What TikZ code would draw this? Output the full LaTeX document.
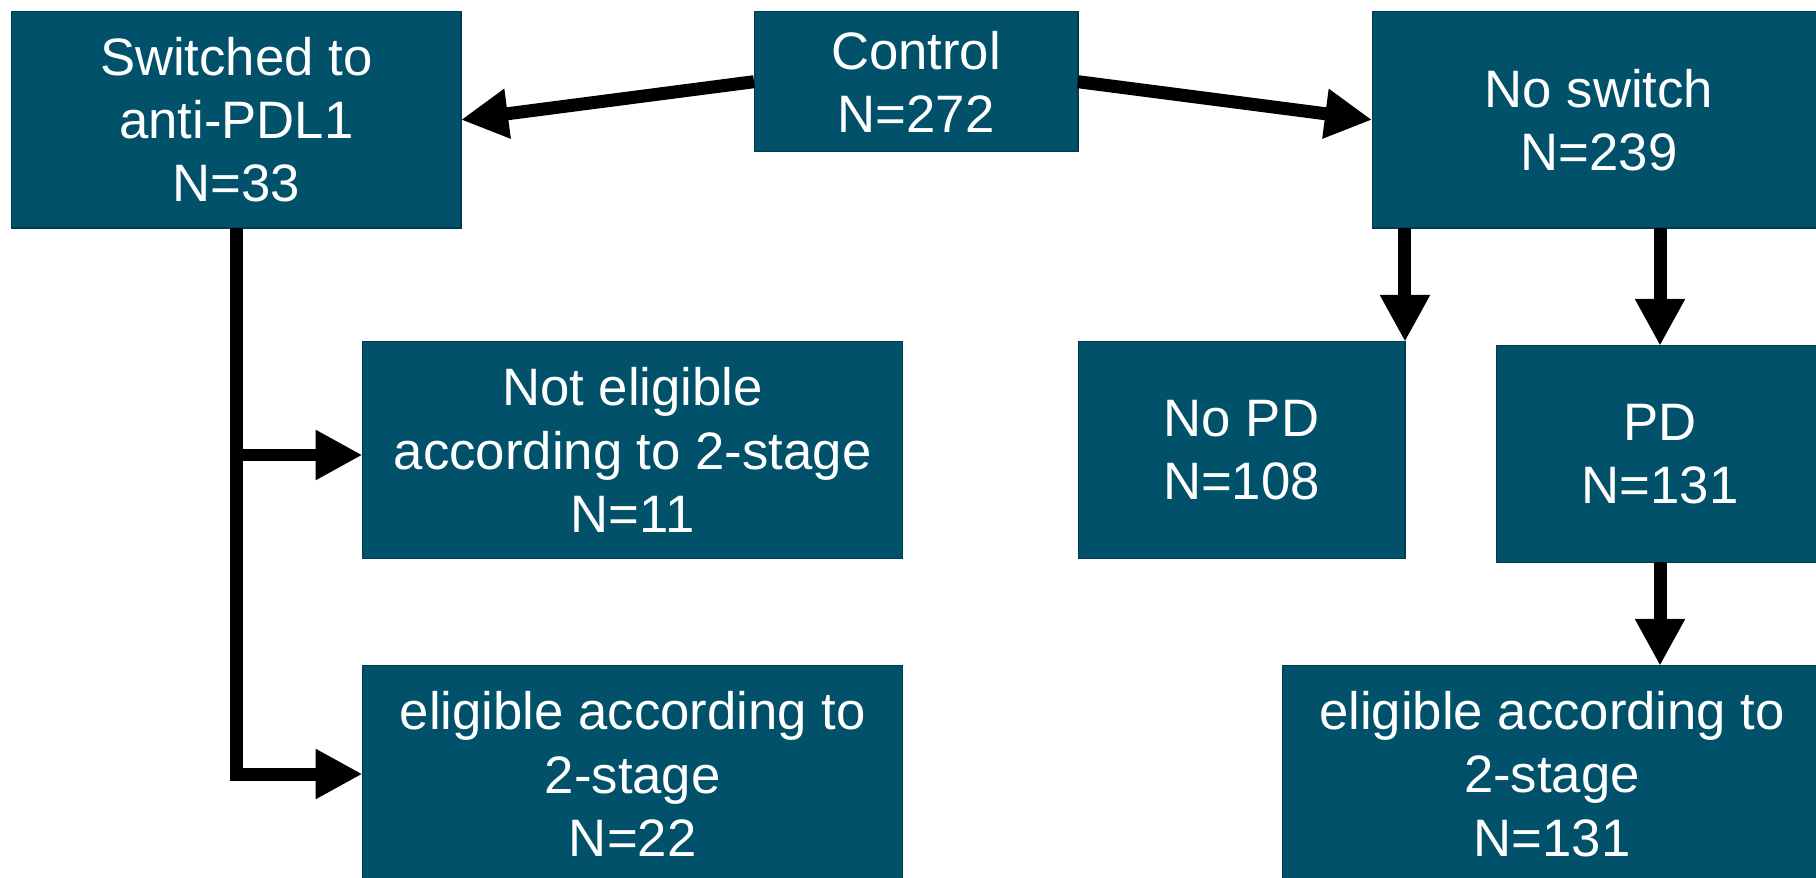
\documentclass[tikz,border=0pt]{standalone}
\usepackage{fontspec}
\setmainfont{Liberation Sans}
\usepackage{tikz}
\usetikzlibrary{arrows.meta}

\definecolor{boxteal}{RGB}{0,81,105}
\definecolor{boxedge}{RGB}{0,60,80}

\begin{document}
\begin{tikzpicture}[x=0.02cm,y=-0.02cm,
        group/.style={draw=boxedge,line width=0.6pt,fill=boxteal,text=white,align=center,
                      inner sep=0pt,outer sep=0pt,minimum height=4.33cm,
                      font=\fontsize{30}{36}\selectfont},
        flow/.style={line width=0.26cm,line join=miter,-{Triangle[length=0.94cm,width=0.94cm]}}]
        \useasboundingbox (0,0) rectangle (1816,878);
        \clip (0,0) rectangle (1816,878);

        \node[group,minimum width=8.99cm] (switched) at (236.3,119.8) {Switched to\\anti-PDL1\\N=33};
        \node[group,minimum width=6.48cm,minimum height=2.80cm] (control) at (916,81.7) {Control\\N=272};
        \node[group,minimum width=9.08cm] (noswitch) at (1599,119.8) {No switch\\N=239};

        \node[group,minimum width=10.81cm] (noteligible) at (632.7,450) {Not eligible\\according to 2-stage\\N=11};
        \node[group,minimum width=10.81cm] (eligleft) at (632.7,774) {eligible according to\\2-stage\\N=22};

        \node[group,minimum width=6.54cm] (nopd) at (1241.5,450) {No PD\\N=108};
        \node[group,minimum width=6.56cm] (pd) at (1660,454) {PD\\N=131};
        \node[group,minimum width=10.80cm] (eligright) at (1552,774) {eligible according to\\2-stage\\N=131};

        \draw[flow] (control.west) -- (switched.east);
        \draw[flow] (control.east) -- (noswitch.west);

        \draw[flow] (switched.south) |- ([yshift=-0.1cm]noteligible.west);
        \draw[flow] (switched.south) |- (eligleft.west);

        \draw[flow] (noswitch.south -| nopd.north east) -- (nopd.north east);
        \draw[flow] (noswitch.south -| pd.north) -- (pd.north);
        \draw[flow] (pd.south) -- (pd.south |- eligright.north);
\end{tikzpicture}
\end{document}
